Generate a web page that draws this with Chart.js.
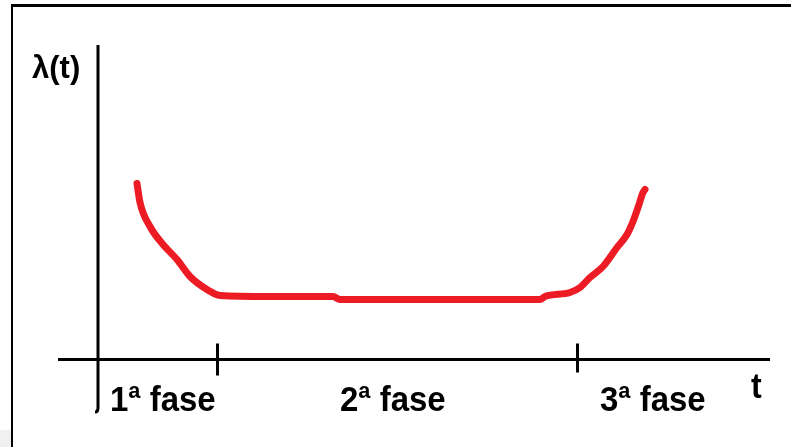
<!DOCTYPE html>
<html>
<head>
<meta charset="utf-8">
<title>Curva da banheira</title>
<script src="https://cdn.jsdelivr.net/npm/chart.js@4.4.0/dist/chart.umd.min.js"></script>
<style>
  html, body { margin: 0; padding: 0; background: #fff; }
  canvas { display: block; }
</style>
</head>
<body>
<canvas id="bathtub" width="791" height="447"></canvas>
<script>
// Curve points (t, lambda)
const tValues = [3.9, 4.2, 5.2, 6.5, 7.9, 9.2, 10.9, 12.2, 17.0, 23.5, 24.2, 30.0, 37.0, 44.2, 44.7, 47.2, 48.2, 49.2, 50.5, 51.9, 52.9, 53.5, 54.0, 54.5, 54.7];
const lambdaValues = [17.6, 15.7, 13.3, 11.5, 10.0, 8.3, 7.0, 6.4, 6.3, 6.3, 6.0, 6.0, 6.0, 6.0, 6.3, 6.7, 7.2, 8.2, 9.3, 11.2, 12.5, 13.8, 15.2, 16.7, 17.0];

// Phase boundaries and labels
const phaseTicks = [12, 48];
const phaseLabels = ['1ª fase', '2ª fase', '3ª fase'];
const phaseLabelX = [1.2, 24.2, 50.2];

const points = tValues.map((t, i) => ({ x: t, y: lambdaValues[i] }));

// draws the frame, axes, ticks and labels around the curve
const axesPlugin = {
    id: 'axesPlugin',
    beforeDatasetsDraw(chart) {
        const ctx = chart.ctx;
        const xs = chart.scales.x;
        const ys = chart.scales.y;
        const x0 = xs.getPixelForValue(0);
        const y0 = ys.getPixelForValue(0);

        ctx.save();
        // grey corner bottom-left
        ctx.fillStyle = '#f0f0f0';
        ctx.fillRect(0, 430, 12, 17);

        // frame
        ctx.strokeStyle = '#000';
        ctx.lineWidth = 3;
        ctx.beginPath();
        ctx.moveTo(11, 5.5);
        ctx.lineTo(791, 5.5);
        ctx.stroke();
        ctx.lineWidth = 2;
        ctx.beginPath();
        ctx.moveTo(12, 4);
        ctx.lineTo(12, 447);
        ctx.stroke();

        // y axis with the little hook at the bottom
        ctx.lineWidth = 3;
        ctx.beginPath();
        ctx.moveTo(x0, chart.chartArea.top);
        ctx.lineTo(x0, chart.chartArea.bottom - 4);
        ctx.quadraticCurveTo(x0, chart.chartArea.bottom, x0 - 3, chart.chartArea.bottom);
        ctx.stroke();

        // x axis
        ctx.beginPath();
        ctx.moveTo(chart.chartArea.left, y0);
        ctx.lineTo(chart.chartArea.right, y0);
        ctx.stroke();

        // phase ticks
        phaseTicks.forEach((t, i) => {
            const px = Math.round(xs.getPixelForValue(t)) - 0.5;
            ctx.beginPath();
            ctx.moveTo(px, y0 - 16);
            ctx.lineTo(px, y0 + (i === 0 ? 16 : 13));
            ctx.stroke();
        });

        // labels, slightly stretched upward like the original
        ctx.fillStyle = '#000';
        ctx.textBaseline = 'alphabetic';
        ctx.textAlign = 'left';
        ctx.font = 'bold 32px "Liberation Sans", Arial, sans-serif';
        phaseLabels.forEach((label, i) => {
            ctx.save();
            ctx.translate(xs.getPixelForValue(phaseLabelX[i]), 411);
            ctx.scale(1.03, 1.08);
            ctx.fillText(label, 0, 0);
            ctx.restore();
        });
        ctx.save();
        ctx.translate(751, 398);
        ctx.scale(1, 1.08);
        ctx.fillText('t', 0, 0);
        ctx.restore();

        ctx.font = 'bold 31px "Liberation Sans", Arial, sans-serif';
        ctx.fillText('λ(t)', 32, 78);
        ctx.restore();
    }
};

new Chart(document.getElementById('bathtub'), {
    type: 'line',
    data: {
        datasets: [{
            data: points,
            borderColor: '#ED1C24',
            borderWidth: 7,
            borderCapStyle: 'round',
            borderJoinStyle: 'round',
            pointRadius: 0,
            cubicInterpolationMode: 'monotone',
            fill: false
        }]
    },
    options: {
        responsive: false,
        animation: false,
        devicePixelRatio: 1,
        layout: { padding: { left: 58, right: 21, top: 45, bottom: 35 } },
        plugins: { legend: { display: false }, tooltip: { enabled: false } },
        scales: {
            x: { type: 'linear', min: -4, max: 67.2, display: false },
            y: { type: 'linear', min: -5.25, max: 31.45, display: false }
        }
    },
    plugins: [axesPlugin]
});
</script>
</body>
</html>
